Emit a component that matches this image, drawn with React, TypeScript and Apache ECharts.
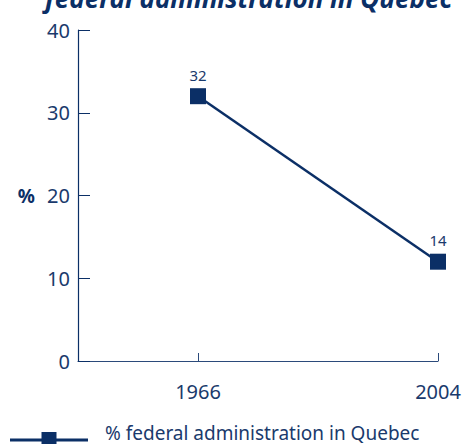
import React, { useEffect, useRef } from "react";
import * as echarts from "echarts";

const categories = ["", "1966", "", "2004"];
const seriesValues: (number | null)[] = [null, 32, null, 12];
const pointLabels: string[] = ["", "32", "", "14"];
const yTicks = [0, 10, 20, 30, 40];
const seriesName = "% federal administration in Quebec";
const titleText = "federal administration in Quebec";

const NAVY = "#0b2f66";
const TEXT = "#1a3a6c";
const FONT = "'Noto Sans', 'Open Sans', sans-serif";

export default function App() {
  const ref = useRef<HTMLDivElement>(null);
  useEffect(() => {
    if (!ref.current) return;
    const chart = echarts.init(ref.current, undefined, { renderer: "svg" });
    chart.setOption({
      animation: false,
      backgroundColor: "#ffffff",
      textStyle: { fontFamily: FONT },
      graphic: [
        {
          type: "text",
          x: 45,
          y: -2,
          z: 100,
          style: {
            text: titleText,
            fontFamily: FONT,
            fontSize: 26,
            fontWeight: "bold",
            fontStyle: "italic",
            fill: NAVY,
            verticalAlign: "middle",
          },
        },
        {
          type: "group",
          z: 100,
          children: [
            {
              type: "line",
              shape: { x1: 10, y1: 440, x2: 88, y2: 440 },
              style: { stroke: NAVY, lineWidth: 3 },
            },
            {
              type: "rect",
              shape: { x: 41.5, y: 432, width: 15, height: 15 },
              style: { fill: NAVY },
            },
            {
              type: "text",
              x: 105,
              y: 432.5,
              style: {
                text: seriesName,
                fontFamily: FONT,
                fontSize: 19,
                fill: TEXT,
                verticalAlign: "middle",
              },
            },
          ],
        },
      ],
      grid: { left: 78, right: 27, top: 30, bottom: 83, containLabel: false },
      xAxis: {
        type: "category",
        data: categories,
        boundaryGap: false,
        axisLine: { lineStyle: { color: "#2b4a7a", width: 1.2 } },
        axisTick: {
          show: true,
          inside: true,
          length: 8,
          interval: (index: number, value: string) => value !== "",
          lineStyle: { color: "#2b4a7a" },
        },
        axisLabel: {
          interval: 0,
          margin: 20,
          fontFamily: FONT,
          fontSize: 20,
          color: TEXT,
          formatter: (v: string) => v,
        },
        splitLine: { show: false },
      },
      yAxis: {
        type: "value",
        min: yTicks[0],
        max: yTicks[yTicks.length - 1],
        interval: 10,
        name: "%",
        nameLocation: "middle",
        nameRotate: 0,
        nameGap: 43,
        nameTextStyle: { fontFamily: FONT, fontSize: 19, fontWeight: "bold", color: NAVY },
        axisLine: { show: true, lineStyle: { color: NAVY, width: 1.2 } },
        axisTick: { show: true, inside: true, length: 12, lineStyle: { color: NAVY } },
        axisLabel: { margin: 8, fontFamily: FONT, fontSize: 20, color: TEXT },
        splitLine: { show: false },
      },
      series: [
        {
          name: seriesName,
          type: "line",
          data: seriesValues,
          connectNulls: true,
          symbol: "rect",
          symbolSize: 16,
          color: NAVY,
          lineStyle: { color: NAVY, width: 2.5 },
          itemStyle: { color: NAVY },
          label: {
            show: true,
            position: "top",
            distance: 6,
            fontFamily: FONT,
            fontSize: 15,
            color: TEXT,
            formatter: (p: any) => pointLabels[p.dataIndex],
          },
        },
      ],
    });
    return () => chart.dispose();
  }, []);
  return (
    <div
      ref={ref}
      style={{ position: "fixed", left: 0, top: 0, width: 465, height: 444, overflow: "hidden" }}
    />
  );
}
